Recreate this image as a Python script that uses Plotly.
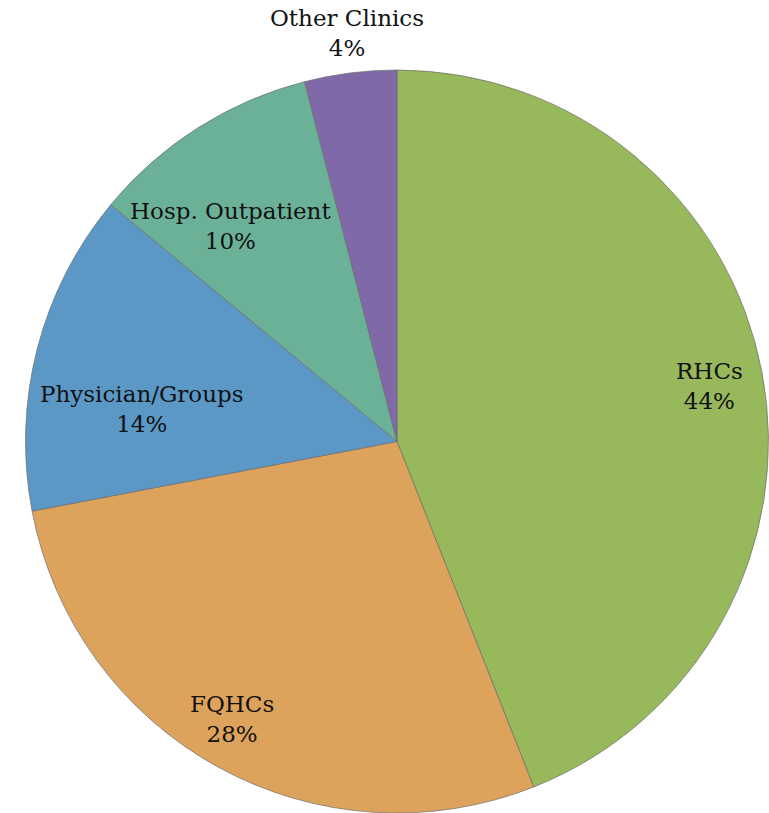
import plotly.graph_objects as go

categories = ["RHCs", "FQHCs", "Physician/Groups", "Hosp. Outpatient", "Other Clinics"]
values = [44, 28, 14, 10, 4]
colors = ["#98B85C", "#DDA35C", "#5C98C6", "#6BB198", "#8069A9"]

W, H = 769, 813
# label text centres (pixels) for each slice
label_px = {
    "RHCs": (709, 386),
    "FQHCs": (232, 719),
    "Physician/Groups": (142, 409),
    "Hosp. Outpatient": (230, 226),
    "Other Clinics": (347, 33),
}

fig = go.Figure(go.Pie(
    labels=categories,
    values=values,
    sort=False,
    direction="clockwise",
    rotation=0,
    marker=dict(colors=colors, line=dict(color="rgba(110,110,110,0.7)", width=1)),
    textinfo="none",
    hoverinfo="label+percent",
    showlegend=False,
    domain=dict(x=[25 / W, 769 / W], y=[0, (813 - 70) / H]),
))

tot = sum(values)
for c, v in zip(categories, values):
    px, py = label_px[c]
    fig.add_annotation(
        x=px / W, y=1 - py / H, xref="paper", yref="paper",
        text=f"{c}<br>{round(100 * v / tot)}%",
        showarrow=False, xanchor="center", yanchor="middle",
        font=dict(family="'DejaVu Serif', serif", size=23, color="#111"),
    )

fig.update_layout(
    width=W, height=H,
    margin=dict(l=0, r=0, t=0, b=0),
    paper_bgcolor="white",
    plot_bgcolor="white",
)

fig.write_html("out.html")
